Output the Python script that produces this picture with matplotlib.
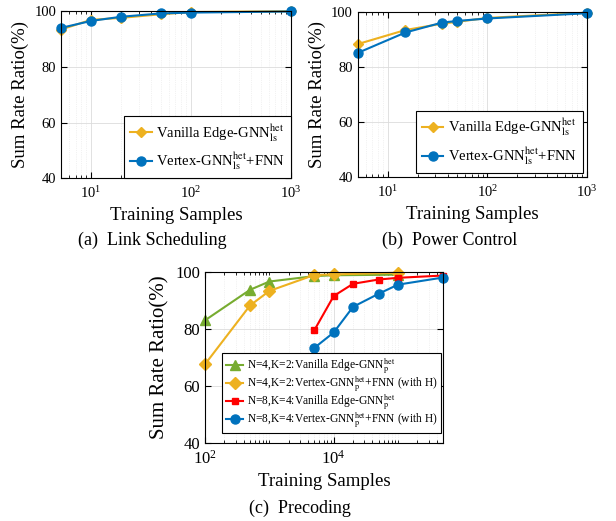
import numpy as np
import matplotlib
matplotlib.use('Agg')
import matplotlib.pyplot as plt
from matplotlib.ticker import LogLocator, NullFormatter

plt.rcParams['font.family'] = ['Liberation Serif', 'DejaVu Serif']
plt.rcParams['mathtext.fontset'] = 'stix'

# (a) link scheduling
ls_x = [5, 10, 20, 50, 100, 1000]
ls_vanilla = [93.4, 96.9, 97.6, 98.9, 99.7, 100.0]
ls_vertex = [94.0, 96.5, 98.0, 99.2, 99.5, 99.9]

# (b) power control
pc_x = [5, 15, 35, 50, 100, 1000]
pc_vanilla = [88.4, 93.5, 95.8, 96.5, 97.9, 99.8]
pc_vertex = [85.2, 92.6, 96.2, 96.8, 97.7, 99.6]

# (c) precoding
p_x42 = [100, 500, 1000, 5000, 10000, 100000]
p_edge42 = [83.1, 93.8, 96.7, 98.6, 98.9, 99.1]
p_vert42 = [67.7, 88.3, 93.4, 99.0, 99.2, 99.8]
p_x84 = [5000, 10000, 20000, 50000, 100000, 500000]
p_edge84 = [79.6, 91.6, 95.9, 97.4, 98.0, 98.8]
p_vert84 = [73.4, 78.8, 87.8, 92.4, 95.6, 98.1]

yellow = '#EDB120'
blue = '#0072BD'
green = '#77AC30'
red = '#FF0000'

fig = plt.figure(figsize=(6.16, 5.21), dpi=100)
ax_a = fig.add_axes([0.099, 0.658, 0.373, 0.3205])
ax_b = fig.add_axes([0.581, 0.660, 0.372, 0.3167])
ax_c = fig.add_axes([0.333, 0.1497, 0.386, 0.328])


def style(ax, tick_fs):
    ax.set_xscale('log')
    ax.set_ylim(40, 100)
    ax.set_yticks([40, 60, 80, 100])
    ax.grid(True, which='major', color='#dcdcdc', linewidth=0.6)
    ax.grid(True, which='minor', axis='x', color='#e6e6e6', linewidth=0.5, linestyle=':')
    ax.tick_params(which='both', direction='in', top=True, right=True, labelsize=tick_fs)
    ax.tick_params(which='major', length=4)
    ax.tick_params(which='minor', length=2)
    ax.tick_params(axis='x', pad=5)
    for s in ax.spines.values():
        s.set_linewidth(0.8)
    ax.set_axisbelow(True)


def leg(ax, fs, **kw):
    lg = ax.legend(loc='lower right', fontsize=fs, fancybox=False, edgecolor='black',
                   handlelength=1.5, handletextpad=0.3, framealpha=1, **kw)
    lg.get_frame().set_linewidth(0.8)
    lg.set_zorder(10)
    return lg


lab_v = r'Vanilla Edge-GNN$_{\rm ls}^{\rm het}$'
lab_f = r'Vertex-GNN$_{\rm ls}^{\rm het}$+FNN'

ax_a.plot(ls_x, ls_vanilla, '-D', color=yellow, ms=5, lw=1.5, label=lab_v, clip_on=False)
ax_a.plot(ls_x, ls_vertex, '-o', color=blue, ms=6.5, lw=1.5, label=lab_f, clip_on=False)
style(ax_a, 10.5)
ax_a.set_xlim(5, 1000)
ax_a.set_xlabel('Training Samples', fontsize=13.5)
ax_a.set_ylabel('Sum Rate Ratio(%)', fontsize=13.5)
leg(ax_a, 10.5, bbox_to_anchor=(1, 0), borderaxespad=0)

ax_b.plot(pc_x, pc_vanilla, '-D', color=yellow, ms=5, lw=1.5, label=lab_v, clip_on=False)
ax_b.plot(pc_x, pc_vertex, '-o', color=blue, ms=6.5, lw=1.5, label=lab_f, clip_on=False)
style(ax_b, 10.5)
ax_b.set_xlim(5, 1000)
ax_b.set_xlabel('Training Samples', fontsize=13.5)
ax_b.set_ylabel('Sum Rate Ratio(%)', fontsize=13.5)
leg(ax_b, 10.5, borderaxespad=0.3)

ax_c.plot(p_x42, p_edge42, '-^', color=green, ms=7, lw=1.5, clip_on=False,
          label=r'N=4,K=2:Vanilla Edge-GNN$_{\rm p}^{\rm het}$')
ax_c.plot(p_x42, p_vert42, '-D', color=yellow, ms=6, lw=1.5, clip_on=False,
          label=r'N=4,K=2:Vertex-GNN$_{\rm p}^{\rm het}$+FNN (with H)')
ax_c.plot(p_x84, p_edge84, '-s', color=red, ms=5, lw=1.5, clip_on=False,
          label=r'N=8,K=4:Vanilla Edge-GNN$_{\rm p}^{\rm het}$')
ax_c.plot(p_x84, p_vert84, '-o', color=blue, ms=6.5, lw=1.5, clip_on=False,
          label=r'N=8,K=4:Vertex-GNN$_{\rm p}^{\rm het}$+FNN (with H)')
style(ax_c, 12)
ax_c.set_xlim(100, 5e5)
ax_c.xaxis.set_major_locator(LogLocator(base=100))
ax_c.xaxis.set_minor_locator(LogLocator(base=10, subs=np.arange(1, 10), numticks=20))
ax_c.xaxis.set_minor_formatter(NullFormatter())
ax_c.set_xlabel('Training Samples', fontsize=13.5)
ax_c.set_ylabel('Sum Rate Ratio(%)', fontsize=15)
leg(ax_c, 8.3, bbox_to_anchor=(1 - 2 / 238, 10 / 171), borderaxespad=0,
    labelspacing=-0.12, borderpad=0.3)

fig.text(0.247, 1 - 240 / 521, '(a)  Link Scheduling', ha='center', va='center', fontsize=13)
fig.text(0.730, 1 - 240 / 521, '(b)  Power Control', ha='center', va='center', fontsize=13)
fig.text(0.487, 1 - 508 / 521, '(c)  Precoding', ha='center', va='center', fontsize=13)

fig.savefig('out.png', dpi=100)
